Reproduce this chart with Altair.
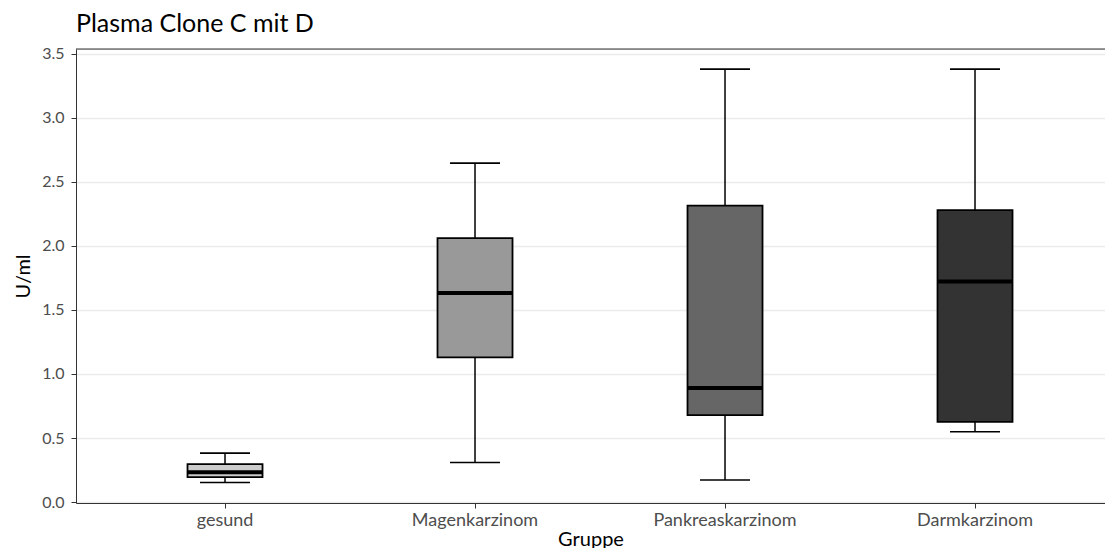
import altair as alt
import pandas as pd

groups = ["gesund", "Magenkarzinom", "Pankreaskarzinom", "Darmkarzinom"]
lower = [0.153, 0.309, 0.172, 0.549]
q1 = [0.195, 1.129, 0.679, 0.627]
median = [0.234, 1.632, 0.890, 1.722]
q3 = [0.297, 2.061, 2.315, 2.280]
upper = [0.382, 2.646, 3.380, 3.380]
fills = ["#CCCCCC", "#999999", "#666666", "#333333"]
yticks = [0.0, 0.5, 1.0, 1.5, 2.0, 2.5, 3.0, 3.5]

df = pd.DataFrame(dict(Gruppe=groups, lower=lower, q1=q1, median=median, q3=q3, upper=upper))

FONT = "Lato"
W, H = 1029, 454
YMIN, YMAX = -0.007, 3.537

xscale = alt.Scale(domain=groups, paddingInner=0, paddingOuter=0.058, align=0.828)
yscale = alt.Scale(domain=[YMIN, YMAX], nice=False, zero=False)

xaxis = alt.Axis(title="Gruppe", labelAngle=0, grid=False, domainColor="#333333",
                 tickColor="#333333", tickSize=5, labelColor="#4D4D4D", labelFontSize=18,
                 labelFont=FONT, titleFont=FONT, titleFontSize=20, titleColor="black",
                 titleFontWeight="normal", labelPadding=3, titlePadding=0)
yaxis = alt.Axis(title="U/ml", values=yticks, format=".1f", grid=True, gridColor="#EBEBEB",
                 gridWidth=1.3, domainColor="#333333", tickColor="#333333", tickSize=5,
                 labelColor="#4D4D4D", labelFontSize=16, labelFont=FONT, titleFont=FONT,
                 titleFontSize=20, titleColor="black", titleFontWeight="normal",
                 labelPadding=7, titlePadding=8)

X = alt.X("Gruppe:N", scale=xscale, sort=groups, axis=xaxis)

def Y(field):
    return alt.Y(f"{field}:Q", scale=yscale, axis=yaxis)

base = alt.Chart(df)

whisker = base.mark_rule(color="black", strokeWidth=1.5).encode(x=X, y=Y("lower"), y2="upper:Q")
box = base.mark_bar(size=75, stroke="black", strokeWidth=1.8).encode(
    x=X, y=Y("q1"), y2="q3:Q",
    color=alt.Color("Gruppe:N", scale=alt.Scale(domain=groups, range=fills), legend=None))
med = base.mark_tick(size=75, thickness=4, color="black", opacity=1).encode(x=X, y=Y("median"))
cap_lo = base.mark_tick(size=50, thickness=1.6, color="black", opacity=1).encode(x=X, y=Y("lower"))
cap_hi = base.mark_tick(size=50, thickness=1.6, color="black", opacity=1).encode(x=X, y=Y("upper"))
top_border = alt.Chart(pd.DataFrame({"v": [YMAX]})).mark_rule(color="#333333", strokeWidth=1).encode(
    y=alt.Y("v:Q", scale=yscale, axis=yaxis), x=alt.value(0), x2=alt.value(W))

chart = alt.layer(whisker, box, med, cap_lo, cap_hi, top_border).properties(
    width=W, height=H,
    title=alt.TitleParams("Plasma Clone C mit D", anchor="start", frame="group", font=FONT,
                          fontSize=25, fontWeight="normal", color="black", offset=9),
    padding={"left": 68, "top": 41, "right": 0, "bottom": 45},
    autosize="none",
).configure_view(stroke=None).configure(background="white")

chart.save("out.html", embed_options={"renderer": "svg", "actions": False})
